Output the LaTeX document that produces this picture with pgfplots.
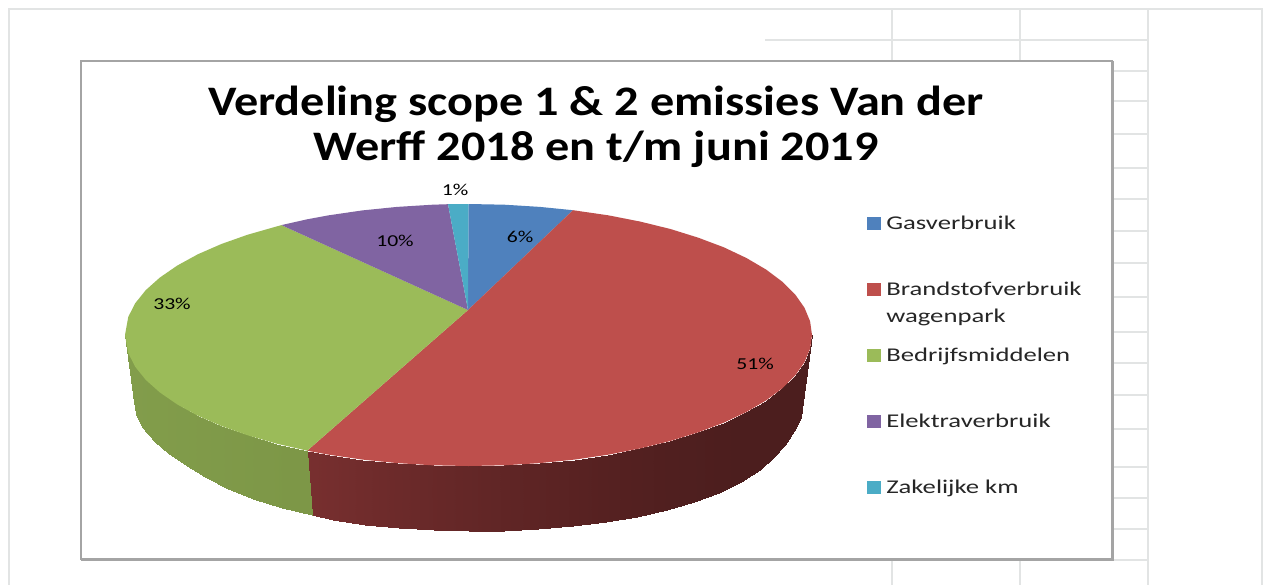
\documentclass[border=0pt]{standalone}
\usepackage{pgfplots}
\usepackage{fontspec}
\pgfplotsset{compat=1.18}
\setmainfont{Carlito}
\newfontfamily\titlefont[FakeStretch=1.148]{Carlito}
\newfontfamily\legfont[FakeStretch=1.37]{Carlito}
\newfontfamily\lblfont[FakeStretch=1.3]{Carlito}
\definecolor{cblue}{HTML}{4F81BD}
\definecolor{cred}{HTML}{BE4F4C}
\definecolor{cgreen}{HTML}{9BBB59}
\definecolor{cpurple}{HTML}{8064A2}
\definecolor{cteal}{HTML}{4BACC6}
\definecolor{gridc}{HTML}{E2E4E4}
\definecolor{framec}{HTML}{A4A4A4}
\begin{document}
\begin{tikzpicture}
\useasboundingbox (0,0) rectangle (947.25pt,438.75pt);
\begin{axis}[
  width=947.25pt, height=438.75pt, scale only axis,
  xmin=0, xmax=1263, ymin=0, ymax=585, y dir=reverse,
  hide axis,
  legend cell align=left,
  legend image code/.code={\fill[#1,draw=none] (0pt,-5pt) rectangle (10.5pt,5pt);},
  legend style={at={(axis cs:867,214.5)}, anchor=north west, draw=none, fill=none,
    font=\legfont\fontsize{14.6pt}{16pt}\selectfont\color{black!85},
    row sep=36pt, inner sep=0pt, outer sep=0pt,
    nodes={inner ysep=0pt, inner xsep=4pt, minimum height=13.5pt}},
]
% spreadsheet background
\addplot[forget plot, gridc, line width=1.5pt] coordinates {(9,585) (9,9) (1262,9) (1262,585)};
\addplot[forget plot, gridc, line width=1.5pt] coordinates {(892,9) (892,585)};
\addplot[forget plot, gridc, line width=1.5pt] coordinates {(1020,9) (1020,585)};
\addplot[forget plot, gridc, line width=1.5pt] coordinates {(1148,9) (1148,585)};
\addplot[forget plot, gridc, line width=1.2pt] coordinates {(765,40) (1148,40)};
\addplot[forget plot, gridc, line width=1.2pt] coordinates {(1100,71) (1148,71)};
\addplot[forget plot, gridc, line width=1.2pt] coordinates {(1100,101) (1148,101)};
\addplot[forget plot, gridc, line width=1.2pt] coordinates {(1100,134) (1148,134)};
\addplot[forget plot, gridc, line width=1.2pt] coordinates {(1100,168) (1148,168)};
\addplot[forget plot, gridc, line width=1.2pt] coordinates {(1100,199) (1148,199)};
\addplot[forget plot, gridc, line width=1.2pt] coordinates {(1100,231) (1148,231)};
\addplot[forget plot, gridc, line width=1.2pt] coordinates {(1100,263) (1148,263)};
\addplot[forget plot, gridc, line width=1.2pt] coordinates {(1100,297) (1148,297)};
\addplot[forget plot, gridc, line width=1.2pt] coordinates {(1100,332) (1148,332)};
\addplot[forget plot, gridc, line width=1.2pt] coordinates {(1100,363) (1148,363)};
\addplot[forget plot, gridc, line width=1.2pt] coordinates {(1100,395) (1148,395)};
\addplot[forget plot, gridc, line width=1.2pt] coordinates {(1100,429) (1148,429)};
\addplot[forget plot, gridc, line width=1.2pt] coordinates {(1100,467) (1148,467)};
\addplot[forget plot, gridc, line width=1.2pt] coordinates {(1100,498) (1148,498)};
\addplot[forget plot, gridc, line width=1.2pt] coordinates {(1100,529) (1148,529)};
\addplot[forget plot, gridc, line width=1.2pt] coordinates {(1100,560) (1148,560)};
% chart frame
\addplot[forget plot, fill=white, draw=framec, line width=1.6pt] coordinates {(81,61) (1112,61) (1112,559) (81,559)} --cycle;
\addplot[forget plot, framec, line width=1pt] coordinates {(1113,61) (1113,560) (81,560)};
% side of the pie
\addplot[forget plot, surf, shader=interp, mesh/rows=2, point meta=x,
  point meta min=307, point meta max=807,
  colormap={redside}{rgb255=(145,59,57) rgb255=(134,54,52) rgb255=(126,50,49) rgb255=(117,46,46) rgb255=(108,42,42) rgb255=(100,39,39) rgb255=(93,36,36) rgb255=(86,33,33) rgb255=(80,31,31) rgb255=(76,30,30) rgb255=(76,30,30)}]
 table {
x y
307.2 450.7
328.8 454.7
362.4 459.6
397.1 463.1
432.6 465.3
468.5 466
504.4 465.3
539.9 463.1
574.6 459.6
608.2 454.7
640.3 448.4
670.4 441
698.3 432.3
723.8 422.7
746.4 412
766 400.5
782.3 388.3
795.2 375.5
804.5 362.2
810.1 348.7
812 335
312 515
332.5 519.8
365.1 524.7
399 528.2
433.5 530.3
468.5 531
503.5 530.5
538 529
572.5 526
605.5 522
637 516.5
667 510
694 502
719 492.5
741 482
760 470
773 458
785 445
794 431
801 417
803 402
};
\addplot[forget plot, surf, shader=interp, mesh/rows=2, point meta=x,
  point meta min=125, point meta max=312,
  colormap={greenside}{rgb255=(130,157,75) rgb255=(125,151,71) rgb255=(121,146,68) rgb255=(116,139,65) rgb255=(110,131,62)}]
 table {
x y
125 335
128.3 353.2
135.2 366.7
145.7 379.8
159.8 392.4
177.2 404.4
197.8 415.7
221.4 426
247.7 435.3
276.4 443.6
307.2 450.7
134 402
136 414
142 427
155 442
168 453
184 464
205 476.5
228 488.5
253 499
281.5 507.5
312 515
};
% top of the pie
\addplot[fill=cblue, draw=none] coordinates {
 (468,310) (468.5,204) (504.4,204.7) (539.9,206.9) (573,210.2)} --cycle;
\addlegendentry{Gasverbruik}
\addplot[fill=cred, draw=none] coordinates {
 (468,310) (573,210.2) (608.2,215.3) (640.3,221.6) (670.4,229) (698.3,237.7) (723.8,247.3)
 (746.4,258) (766,269.5) (782.3,281.7) (795.2,294.5) (804.5,307.8) (810.1,321.3) (812,335)
 (810.1,348.7) (804.5,362.2) (795.2,375.5) (782.3,388.3) (766,400.5) (746.4,412) (723.8,422.7)
 (698.3,432.3) (670.4,441) (640.3,448.4) (608.2,454.7) (574.6,459.6) (539.9,463.1) (504.4,465.3)
 (468.5,466) (432.6,465.3) (397.1,463.1) (362.4,459.6) (328.8,454.7) (307.2,450.7)} --cycle;
\addlegendentry{\smash{\makebox[0pt][l]{\raisebox{-20.25pt}{wagenpark}}}Brandstofverbruik}
\addplot[fill=cgreen, draw=none] coordinates {
 (468,310) (307.2,450.7) (276.4,443.6) (247.7,435.3) (221.4,426) (197.8,415.7) (177.2,404.4)
 (159.8,392.4) (145.7,379.8) (135.2,366.7) (128.3,353.2) (125,335) (128.3,316.8) (135.2,303.3)
 (145.7,290.2) (159.8,277.6) (177.2,265.6) (197.8,254.3) (221.4,244) (247.7,234.7) (281.4,225.1)} --cycle;
\addlegendentry{Bedrijfsmiddelen}
\addplot[fill=cpurple, draw=none] coordinates {
 (468,310) (281.4,225.1) (307.2,219.3) (328.8,215.3) (362.4,210.4) (397.1,206.9) (432.6,204.7) (448,204.2)} --cycle;
\addlegendentry{Elektraverbruik}
\addplot[fill=cteal, draw=none] coordinates {
 (468,310) (448,204.2) (468.5,204)} --cycle;
\addlegendentry{Zakelijke km}
% title
\node[anchor=base, font=\titlefont\bfseries\fontsize{31.5pt}{34pt}\selectfont, text=black] at (axis cs:596,115) {Verdeling scope 1 \& 2 emissies Van der};
\node[anchor=base, font=\titlefont\bfseries\fontsize{31.5pt}{34pt}\selectfont, text=black] at (axis cs:596,160) {Werff 2018 en t/m juni 2019};
% data labels
\node[font=\lblfont\fontsize{12.5pt}{14pt}\selectfont] at (axis cs:455,190) {1\%};
\node[font=\lblfont\fontsize{12.5pt}{14pt}\selectfont] at (axis cs:395,241) {10\%};
\node[font=\lblfont\fontsize{12.5pt}{14pt}\selectfont] at (axis cs:172,304) {33\%};
\node[font=\lblfont\fontsize{12.5pt}{14pt}\selectfont] at (axis cs:520,237) {6\%};
\node[font=\lblfont\fontsize{12.5pt}{14pt}\selectfont] at (axis cs:755,364) {51\%};
\end{axis}
\end{tikzpicture}
\end{document}
